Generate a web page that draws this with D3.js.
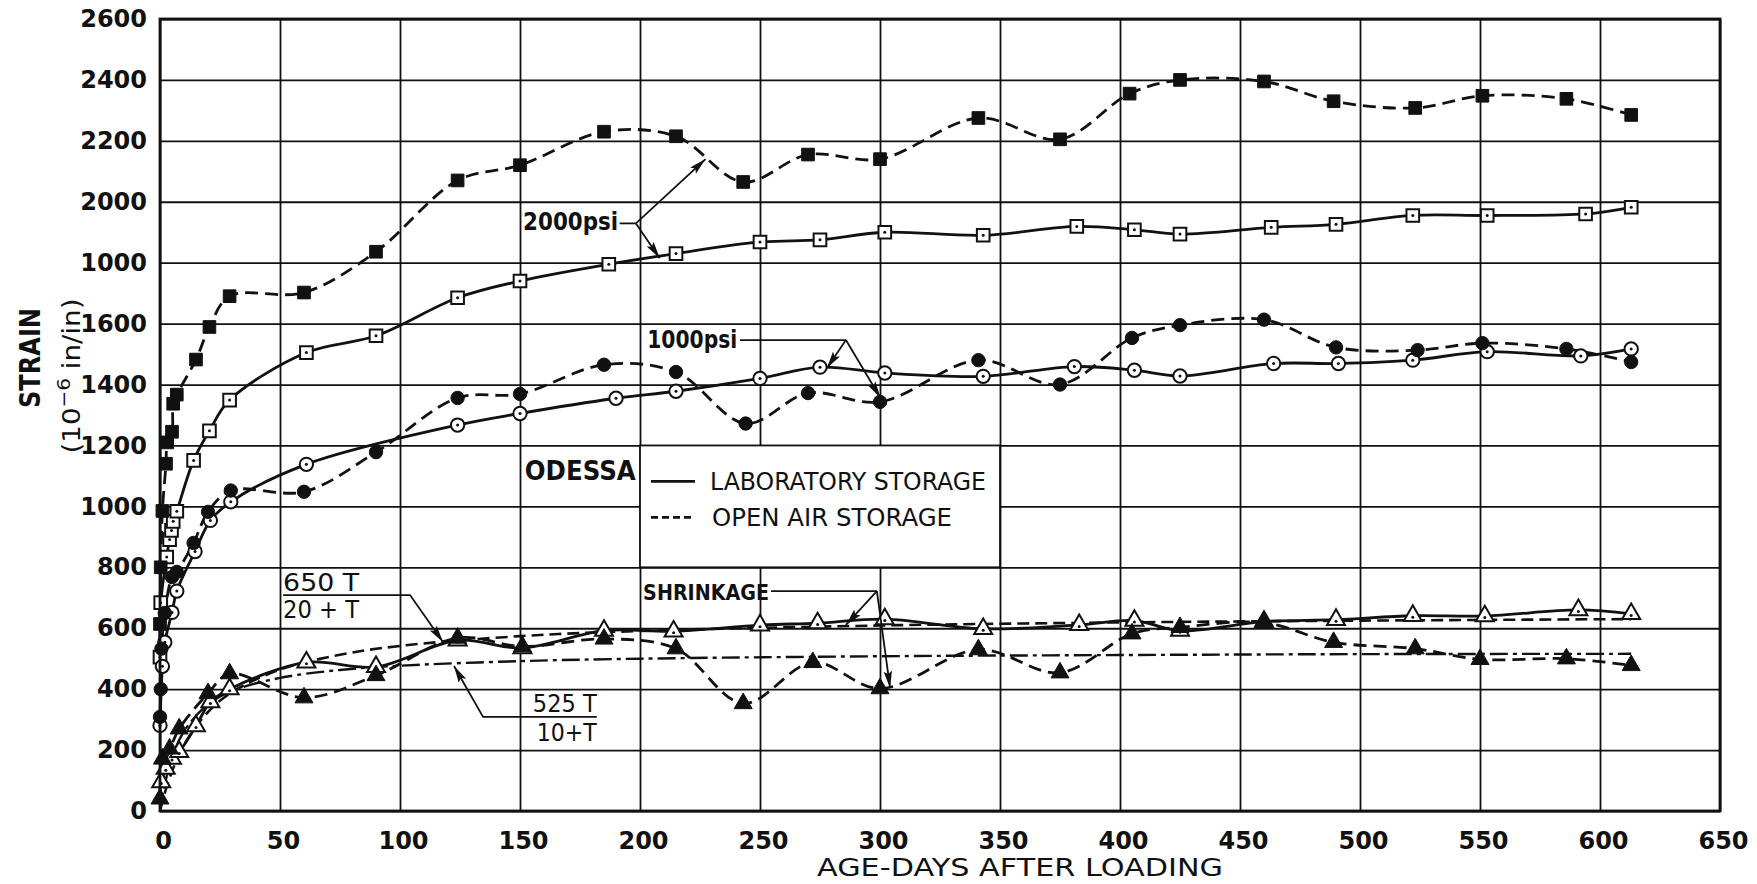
<!DOCTYPE html>
<html>
<head>
<meta charset="utf-8">
<script src="https://cdn.jsdelivr.net/npm/d3@7"></script>
<style>
  body { margin: 0; background: #fff; }
  text { font-family: "DejaVu Sans", sans-serif; fill: #111; }
  .grid line { stroke: #111; stroke-width: 1.8px; }
  .tick-label { font-weight: bold; font-size: 24px; }
</style>
</head>
<body>
<svg id="chart" width="1757" height="884"></svg>
<script>
// ---- data (day, strain x10^-6) ----
var xTicks = [0, 50, 100, 150, 200, 250, 300, 350, 400, 450, 500, 550, 600, 650];
var yTicks = [0, 200, 400, 600, 800, 1000, 1200, 1400, 1600, 1800, 2000, 2200, 2400, 2600];
// label at 1800 is printed "1000" on the original sheet
var yTickLabels = ["0", "200", "400", "600", "800", "1000", "1200", "1400", "1600", "1000", "2000", "2200", "2400", "2600"];

var psi2000Open = [[0,614],[0.3,800],[1,985],[2.5,1140],[3,1210],[5,1245],[5.5,1337],[7,1367],[15,1482],[20.6,1589],[29,1690],[60,1702],[90,1836],[124,2070],[150,2120],[185,2230],[215,2215],[243,2065],[270,2155],[300,2140],[341,2275],[375,2205],[404,2355],[425,2400],[460,2395],[489,2330],[523,2308],[551,2348],[586,2338],[613,2285]];
var psi2000Lab = [[0,505],[0.3,684],[2.8,834],[4,891],[4.8,921],[5.5,951],[7,984],[14,1151],[20.6,1248],[29,1349],[61,1505],[90,1560],[124,1685],[150,1740],[187,1795],[215,1830],[250,1868],[275,1875],[302,1900],[343,1890],[382,1919],[406,1908],[425,1894],[463,1916],[490,1926],[522,1955],[553,1955],[594,1960],[613,1982]];
var psi1000Open = [[0,309],[0.3,400],[0.6,533],[2,650],[5,768],[7,785],[14,880],[20,982],[29.5,1052],[60,1048],[90,1178],[124,1356],[150,1369],[185,1465],[215,1441],[244,1272],[270,1372],[300,1343],[341,1480],[375,1400],[405,1553],[425,1595],[460,1613],[490,1522],[524,1513],[551,1536],[586,1517],[613,1474]];
var psi1000Lab = [[0,281],[1,475],[2,554],[5,652],[7,722],[14.6,852],[21,954],[29.5,1015],[61,1138],[124,1267],[150,1305],[190,1355],[215,1378],[250,1420],[275,1457],[302,1438],[343,1427],[381,1459],[406,1447],[425,1428],[464,1469],[491,1469],[522,1480],[553,1508],[592,1494],[613,1517]];
var shrinkLab = [[0.5,95],[2.4,139],[5,172],[8,194],[15,279],[21,358],[29,400],[61,488],[90,473],[124,560],[151,535],[185,592],[214,590],[250,610],[274,617],[302,630],[343,598],[383,611],[406,625],[425,592],[460,622],[490,628],[522,641],[552,640],[591,660],[613,647]];
var shrinkOpen = [[0,40],[1,171],[4,204],[8,270],[20,386],[29,451],[60,372],[90,445],[124,568],[151,540],[185,565],[215,533],[243,353],[272,488],[300,402],[341,530],[375,454],[405,582],[425,603],[460,618],[489,554],[523,533],[550,498],[586,500],[613,478]];
// fitted curves as traced on the sheet
var curve650 = [[0,0],[1,31],[2,59],[5,130],[10,217],[20,325],[30,390],[50,464],[75,513],[100,542],[150,574],[200,591],[300,609],[400,619],[500,625],[613,630]];
var curve525 = [[0,0],[1,48],[2,88],[5,175],[10,262],[20,350],[30,394],[50,437],[75,463],[100,477],[150,492],[200,500],[300,508],[400,512],[500,515],[613,516]];

var svg = d3.select("#chart");
var plotL = 160, plotR = 1720, plotT = 19, plotB = 811;

var x = d3.scaleLinear().domain([0, 650]).range([plotL, plotR]);
var y = d3.scaleLinear().domain([0, 2600]).range([plotB, plotT]);

// grid + tick labels
var gx = svg.append("g").attr("class", "grid")
    .attr("transform", "translate(0," + plotB + ")")
    .call(d3.axisBottom(x).tickValues(xTicks).tickSize(-(plotB - plotT)).tickPadding(21));
gx.select(".domain").remove();
gx.selectAll("text").attr("class", "tick-label").attr("fill", "#111").attr("dx", 3);

var gy = svg.append("g").attr("class", "grid")
    .attr("transform", "translate(" + plotL + ",0)")
    .call(d3.axisLeft(y).tickValues(yTicks).tickSize(-(plotR - plotL)).tickPadding(13)
      .tickFormat(function(d, i) { return yTickLabels[i]; }));
gy.select(".domain").remove();
gy.selectAll("text").attr("class", "tick-label").attr("fill", "#111");

// legend box sits on the grid in white
var box = { d0: 200, d1: 350, v0: 800, v1: 1200 };
svg.append("rect")
    .attr("x", x(box.d0)).attr("y", y(box.v1))
    .attr("width", x(box.d1) - x(box.d0)).attr("height", y(box.v0) - y(box.v1))
    .attr("fill", "#fff").attr("stroke", "#111").attr("stroke-width", 1.8);

// arrow head
svg.append("defs").append("marker")
    .attr("id", "arrow").attr("markerUnits", "userSpaceOnUse")
    .attr("viewBox", "0 0 16 8").attr("refX", 16).attr("refY", 4)
    .attr("markerWidth", 17).attr("markerHeight", 9).attr("orient", "auto")
  .append("path").attr("d", "M0,0 L16,4 L0,8 L3,4 z").attr("fill", "#111");

var line = d3.line()
    .x(function(d) { return x(d[0]); })
    .y(function(d) { return y(d[1]); })
    .curve(d3.curveCatmullRom.alpha(0.5));

function drawLine(data, dash, width) {
  svg.append("path").datum(data)
    .attr("d", line)
    .attr("fill", "none")
    .attr("stroke", "#111")
    .attr("stroke-width", width || 2.8)
    .attr("stroke-dasharray", dash || null)
    .attr("stroke-linejoin", "round");
}

drawLine(curve525, "18,5,4,5", 2.4);
drawLine(curve650, "12,6", 2.6);
drawLine(psi2000Open, "13,7");
drawLine(psi2000Lab);
drawLine(psi1000Open, "13,7");
drawLine(psi1000Lab);
drawLine(shrinkOpen, "13,7");
drawLine(shrinkLab);

// markers
var sym = {
  square: d3.symbol().type(d3.symbolSquare).size(160),
  circle: d3.symbol().type(d3.symbolCircle).size(140),
  triangle: d3.symbol().type(d3.symbolTriangle).size(140)
};

function drawMarks(data, shape, filled) {
  var g = svg.append("g");
  var m = g.selectAll("g").data(data).enter().append("g")
      .attr("transform", function(d) {
        return "translate(" + x(d[0]) + "," + y(d[1]) + ")";
      });
  m.append("path")
    .attr("d", sym[shape])
    .attr("fill", filled ? "#111" : "#fff")
    .attr("stroke", "#111")
    .attr("stroke-width", filled ? 1 : 2);
  if (!filled) {
    m.append("circle").attr("r", 1.5).attr("cy", shape == "triangle" ? 1.5 : 0).attr("fill", "#111");
  }
}

drawMarks(psi2000Lab, "square", false);
drawMarks(psi2000Open, "square", true);
drawMarks(psi1000Lab, "circle", false);
drawMarks(psi1000Open, "circle", true);
drawMarks(shrinkLab, "triangle", false);
drawMarks(shrinkOpen, "triangle", true);

// frame
svg.append("rect")
    .attr("x", plotL).attr("y", plotT)
    .attr("width", plotR - plotL).attr("height", plotB - plotT)
    .attr("fill", "none").attr("stroke", "#111").attr("stroke-width", 2.8);

// ---- annotations ----
function label(txt, d, v, opts) {
  opts = opts || {};
  var t = svg.append("text")
      .attr("x", x(d)).attr("y", y(v))
      .attr("font-size", opts.size || 22)
      .attr("font-weight", opts.weight || "normal")
      .attr("text-anchor", opts.anchor || "start")
      .text(txt);
  if (opts.len) t.attr("textLength", opts.len).attr("lengthAdjust", "spacingAndGlyphs");
  return t;
}

function seg(pts, arrow) {
  svg.append("path")
    .attr("d", d3.line().x(function(p) { return x(p[0]); }).y(function(p) { return y(p[1]); })(pts))
    .attr("fill", "none").attr("stroke", "#111").attr("stroke-width", 1.8)
    .attr("marker-end", arrow ? "url(#arrow)" : null);
}

// 2000 psi
label("2000psi", 151.3, 1907, { size: 24, weight: "bold", len: 95 });
seg([[191.5, 1929], [198.3, 1929]]);
seg([[198.3, 1929], [227.3, 2140]], true);
seg([[198.3, 1929], [208.2, 1815]], true);

// 1000 psi
label("1000psi", 203, 1520, { size: 24, weight: "bold", len: 90 });
seg([[241.7, 1546], [285.8, 1546]]);
seg([[285.8, 1546], [277.9, 1454]], true);
seg([[285.8, 1546], [300.2, 1356]], true);

// shrinkage
label("SHRINKAGE", 201.3, 693, { size: 22, weight: "bold", len: 126 });
seg([[254.6, 722], [298.7, 722]]);
seg([[298.7, 722], [285.8, 611]], true);
seg([[298.7, 722], [304.2, 404]], true);

// 650T / (20+T)
label("650 T", 51.3, 722, { size: 24, len: 76 });
label("20 + T", 51.3, 632, { size: 24, len: 76 });
seg([[51.3, 709], [104.2, 709], [117.9, 555]], true);

// 525T / (10+T)
label("525 T", 182, 325, { size: 24, anchor: "end", len: 64 });
label("10+T", 182, 231, { size: 24, anchor: "end", len: 60 });
seg([[182, 309], [134.6, 309], [122.5, 476]], true);

// site name
label("ODESSA", 152, 1087, { size: 27, weight: "bold", len: 111 });

// legend entries
var lx = x(box.d0), ly = y(box.v1);
svg.append("line").attr("x1", lx + 11).attr("x2", lx + 55).attr("y1", ly + 36).attr("y2", ly + 36)
    .attr("stroke", "#111").attr("stroke-width", 2.8);
svg.append("line").attr("x1", lx + 11).attr("x2", lx + 55).attr("y1", ly + 72).attr("y2", ly + 72)
    .attr("stroke", "#111").attr("stroke-width", 2.8).attr("stroke-dasharray", "7,4");
svg.append("text").attr("x", lx + 70).attr("y", ly + 45).attr("font-size", 24)
    .attr("textLength", 276).attr("lengthAdjust", "spacingAndGlyphs").text("LABORATORY STORAGE");
svg.append("text").attr("x", lx + 72).attr("y", ly + 81).attr("font-size", 24)
    .attr("textLength", 240).attr("lengthAdjust", "spacingAndGlyphs").text("OPEN AIR STORAGE");

// axis titles
svg.append("text").attr("transform", "translate(40,358) rotate(-90)")
    .attr("text-anchor", "middle").attr("font-size", 28).attr("font-weight", "bold")
    .attr("textLength", 100).attr("lengthAdjust", "spacingAndGlyphs").text("STRAIN");

var unit = svg.append("text").attr("transform", "translate(80,376) rotate(-90)")
    .attr("text-anchor", "middle").attr("font-size", 25)
    .attr("textLength", 155).attr("lengthAdjust", "spacingAndGlyphs");
unit.append("tspan").text("(10");
unit.append("tspan").attr("dy", -10).attr("font-size", 18).text("\u22126");
unit.append("tspan").attr("dy", 10).text(" in/in)");

svg.append("text").attr("x", 817).attr("y", 876).attr("font-size", 25)
    .attr("textLength", 406).attr("lengthAdjust", "spacingAndGlyphs")
    .text("AGE-DAYS AFTER LOADING");
</script>
</body>
</html>
